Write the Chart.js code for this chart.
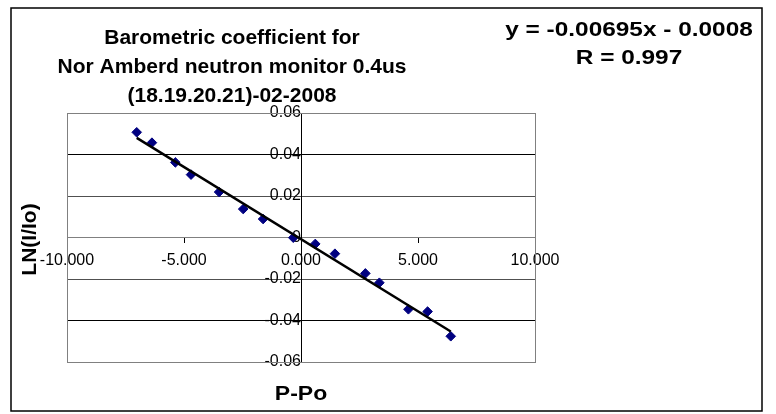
<!DOCTYPE html>
<html>
<head>
<meta charset="utf-8">
<script src="https://cdn.jsdelivr.net/npm/chart.js@4/dist/chart.umd.min.js"></script>
<style>
  html, body { margin: 0; padding: 0; background: #fff; }
  canvas { display: block; }
</style>
</head>
<body>
<canvas id="baro-canvas" width="776" height="414"></canvas>
<script>
// P - Po (hPa) and LN(I/Io)
const pressureDiff = [-7.02, -6.37, -5.37, -4.70, -3.50, -2.47, -1.62, -0.33, 0.61, 1.45, 2.75, 3.35, 4.59, 5.41, 6.40];
const lnRatio = [0.0507, 0.0457, 0.0362, 0.0303, 0.0219, 0.0137, 0.0089, -0.0001, -0.0031, -0.0078, -0.0173, -0.0218, -0.0346, -0.0357, -0.0476];

// linear trend line ends
const trendX = [-7.02, 6.40];
const trendY = [0.0480, -0.0453];

const xTicks = [-10, -5, 0, 5, 10];
const xTickLabels = ["-10.000", "-5.000", "0.000", "5.000", "10.000"];
const yTicks = [-0.06, -0.04, -0.02, 0, 0.02, 0.04, 0.06];
const yTickLabels = ["-0.06", "-0.04", "-0.02", "0", "0.02", "0.04", "0.06"];

const titleLines = ["Barometric coefficient for", "Nor Amberd neutron monitor 0.4us", "(18.19.20.21)-02-2008"];
const equationLines = ["y = -0.00695x - 0.0008", "R = 0.997"];
const xAxisTitle = "P-Po";
const yAxisTitle = "LN(I/Io)";

const FONT = '"Liberation Sans", Arial, sans-serif';

// text a bit wider than the font gives, like the stretched excel picture
function wideText(ctx, text, x, y, sx) {
  ctx.save();
  ctx.translate(x, y);
  ctx.scale(sx, 1);
  ctx.fillText(text, 0, 0);
  ctx.restore();
}

// frame, titles and axis names (Excel style)
const decorPlugin = {
  id: "decor",
  beforeDraw(chart) {
    const ctx = chart.ctx;
    ctx.save();
    ctx.fillStyle = "#fff";
    ctx.fillRect(0, 0, chart.width, chart.height);
    ctx.restore();
  },
  beforeDatasetsDraw(chart) {
    const { ctx, chartArea } = chart;
    ctx.save();
    ctx.strokeStyle = "#808080";
    ctx.lineWidth = 1;
    ctx.strokeRect(Math.round(chartArea.left) + 0.5, Math.round(chartArea.top) + 0.5,
      Math.round(chartArea.right - chartArea.left), Math.round(chartArea.bottom - chartArea.top));
    ctx.restore();
  },
  afterDraw(chart) {
    const { ctx, chartArea } = chart;
    ctx.save();
    // outer chart border
    ctx.strokeStyle = "#000";
    ctx.lineWidth = 1.5;
    ctx.strokeRect(11, 8, 751, 403);

    ctx.fillStyle = "#000";
    ctx.textAlign = "center";
    ctx.textBaseline = "middle";
    ctx.font = "bold 21px " + FONT;
    titleLines.forEach((t, i) => ctx.fillText(t, 232, 38 + i * 29));

    ctx.font = "bold 20px " + FONT;
    equationLines.forEach((t, i) => wideText(ctx, t, 629, 30 + i * 28, 1.22));

    wideText(ctx, xAxisTitle, (chartArea.left + chartArea.right) / 2, 394, 1.15);

    ctx.translate(30, (chartArea.top + chartArea.bottom) / 2 + 2);
    ctx.rotate(-Math.PI / 2);
    ctx.font = "bold 21px " + FONT;
    ctx.fillText(yAxisTitle, 0, 0);
    ctx.restore();
  }
};

const gridColor = c => {
  const v = c.tick ? c.tick.value : null;
  if (v === 0 || Math.abs(Math.abs(v) - 0.06) < 1e-9) return "#808080";
  if (Math.abs(Math.abs(v) - 0.02) < 1e-9) return "#505050";
  return "#000";
};

new Chart(document.getElementById("baro-canvas").getContext("2d"), {
  type: "scatter",
  data: {
    datasets: [
      {
        label: "trend",
        type: "line",
        data: trendX.map((x, i) => ({ x: x, y: trendY[i] })),
        borderColor: "#000",
        borderWidth: 2.5,
        pointRadius: 0,
        fill: false
      },
      {
        label: "LN(I/Io)",
        data: pressureDiff.map((x, i) => ({ x: x, y: lnRatio[i] })),
        pointStyle: "rectRot",
        pointRadius: 4.8,
        backgroundColor: "#000080",
        borderColor: "#000080",
        borderWidth: 1
      }
    ]
  },
  options: {
    responsive: false,
    animation: false,
    devicePixelRatio: 1,
    layout: { padding: { left: 67, right: 241, top: 113, bottom: 52 } },
    plugins: { legend: { display: false }, tooltip: { enabled: false }, title: { display: false } },
    scales: {
      x: {
        type: "linear",
        position: { y: 0 },
        min: -10,
        max: 10,
        afterBuildTicks: s => { s.ticks = xTicks.map(v => ({ value: v })); },
        ticks: {
          callback: (v, i) => xTickLabels[i],
          color: "#000",
          font: { family: FONT, size: 16 },
          padding: 8,
          maxRotation: 0,
          autoSkip: false
        },
        grid: { drawOnChartArea: false, color: "#000", tickLength: 5 },
        border: { display: true, color: "#808080", width: 1 }
      },
      y: {
        type: "linear",
        position: { x: 0 },
        min: -0.06,
        max: 0.06,
        afterBuildTicks: s => { s.ticks = yTicks.map(v => ({ value: v })); },
        ticks: {
          callback: (v, i) => yTickLabels[i],
          color: "#000",
          font: { family: FONT, size: 16 },
          padding: 1,
          autoSkip: false
        },
        grid: { color: gridColor, tickLength: 6 },
        border: { display: true, color: "#000", width: 1 }
      }
    }
  },
  plugins: [decorPlugin]
});
</script>
</body>
</html>
